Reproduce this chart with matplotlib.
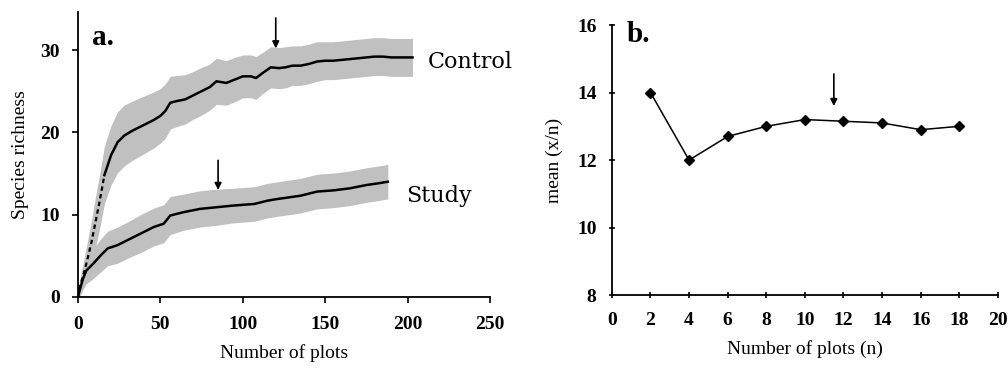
import matplotlib
matplotlib.use("Agg")
import matplotlib.pyplot as plt
import numpy as np

# ---- Panel a data ----
control_x = [0, 1, 3, 5, 8, 10, 13, 16, 20, 24, 28, 33, 40, 46, 50, 53, 56, 60, 65, 70, 75, 80,
             84, 90, 95, 100, 105, 108, 112, 117, 122, 126, 130, 135, 140, 145, 150, 155, 160,
             165, 170, 175, 180, 185, 190, 195, 200, 203]
control_y = [0.0, 1.2, 2.5, 4.0, 6.5, 8.5, 11.5, 14.8, 17.2, 18.8, 19.6, 20.2, 20.9, 21.5, 22.0,
             22.6, 23.6, 23.8, 24.0, 24.5, 25.0, 25.5, 26.2, 26.0, 26.4, 26.8, 26.8, 26.6, 27.2,
             27.9, 27.8, 27.9, 28.1, 28.1, 28.3, 28.6, 28.7, 28.7, 28.8, 28.9, 29.0, 29.1, 29.2,
             29.2, 29.1, 29.1, 29.1, 29.1]
control_sd = [0.3, 0.8, 1.5, 2.0, 2.6, 3.0, 3.3, 3.5, 3.6, 3.7, 3.7, 3.6, 3.5, 3.4, 3.3, 3.3,
              3.2, 3.1, 3.0, 2.9, 2.9, 2.8, 2.8, 2.7, 2.7, 2.6, 2.6, 2.6, 2.5, 2.5, 2.5, 2.5,
              2.4, 2.4, 2.4, 2.4, 2.3, 2.3, 2.3, 2.3, 2.3, 2.3, 2.3, 2.3, 2.3, 2.3, 2.3, 2.3]

study_x = [0, 1, 3, 5, 9, 14, 18, 24, 30, 38, 46, 52, 56, 64, 74, 84, 94, 107, 115, 121, 135,
           145, 155, 165, 175, 182, 188]
study_y = [0.0, 0.8, 2.2, 3.2, 4.0, 5.1, 5.9, 6.3, 6.9, 7.7, 8.5, 8.9, 9.9, 10.3, 10.7, 10.9,
           11.1, 11.3, 11.7, 11.9, 12.3, 12.8, 12.95, 13.2, 13.6, 13.8, 14.0]
study_sd = [0.3, 0.8, 1.3, 1.6, 1.8, 2.0, 2.1, 2.2, 2.2, 2.3, 2.3, 2.3, 2.3, 2.2, 2.2, 2.2,
            2.1, 2.1, 2.1, 2.1, 2.1, 2.1, 2.1, 2.1, 2.1, 2.1, 2.1]

a_xticks = [0, 50, 100, 150, 200, 250]
a_yticks = [0, 10, 20, 30]
control_arrow = (120, 33.9, 30.2)
study_arrow = (85, 16.6, 13.0)

# ---- Panel b data ----
b_n = [2, 4, 6, 8, 10, 12, 14, 16, 18]
b_mean = [14.0, 12.0, 12.7, 13.0, 13.2, 13.15, 13.1, 12.9, 13.0]
b_xticks = [0, 2, 4, 6, 8, 10, 12, 14, 16, 18, 20]
b_yticks = [8, 10, 12, 14, 16]
b_arrow = (11.5, 14.55, 13.6)

serif = ["Liberation Serif", "DejaVu Serif"]
plt.rcParams["font.family"] = serif

fig = plt.figure(figsize=(10.08, 3.68), dpi=100)
axa = fig.add_axes([0.0774, 0.193, 0.4087, 0.774])
axb = fig.add_axes([0.607, 0.198, 0.383, 0.734])

def style(ax, tdir):
    for s in ["top", "right"]:
        ax.spines[s].set_visible(False)
    for s in ["left", "bottom"]:
        ax.spines[s].set_linewidth(1.3)
        ax.spines[s].set_color("black")
    ax.tick_params(direction=tdir, length=4, width=1.2, colors="black")
    ax.tick_params(axis="x", pad=10)
    ax.tick_params(axis="y", pad=9)
    for lab in ax.get_xticklabels() + ax.get_yticklabels():
        lab.set_fontweight("bold")
        lab.set_fontsize(14)

# Panel a
cx = np.array(control_x); cy = np.array(control_y); cs = np.array(control_sd)
sx = np.array(study_x); sy = np.array(study_y); ss = np.array(study_sd)
axa.fill_between(cx, cy - cs, cy + cs, color="#c0c0c0", lw=0)
axa.fill_between(sx, sy - ss, sy + ss, color="#c0c0c0", lw=0)
early = cx <= 16
axa.plot(cx[early], cy[early], color="black", lw=1.6, ls=(0, (2, 1.5)))
axa.plot(cx[cx >= 16], cy[cx >= 16], color="black", lw=1.8)
axa.plot(sx, sy, color="black", lw=1.8)
for (xa, y0, y1) in [control_arrow, study_arrow]:
    axa.annotate("", xy=(xa, y1), xytext=(xa, y0),
                 arrowprops=dict(arrowstyle="-|>", color="black", lw=1.2,
                                 mutation_scale=10, shrinkA=0, shrinkB=0))
axa.set_xlim(0, 250)
axa.set_ylim(0, 34.6)
axa.set_xticks(a_xticks)
axa.set_yticks(a_yticks)
style(axa, "out")
axa.text(212, 28.6, "Control", fontsize=16, va="center", ha="left", family="DejaVu Serif")
axa.text(199, 12.3, "Study", fontsize=16, va="center", ha="left", family="DejaVu Serif")
axa.text(8.5, 30.6, "a.", fontsize=21, fontweight="bold", va="baseline", ha="left")
axa.set_xlabel("Number of plots", fontsize=14, labelpad=8)
axa.set_ylabel("Species richness", fontsize=14, labelpad=8)

# Panel b
axb.plot(b_n, b_mean, color="black", lw=1.1, marker="D", ms=5)
axb.annotate("", xy=(b_arrow[0], b_arrow[2]), xytext=(b_arrow[0], b_arrow[1]),
             arrowprops=dict(arrowstyle="-|>", color="black", lw=1.2,
                             mutation_scale=10, shrinkA=0, shrinkB=0))
axb.set_xlim(0, 20)
axb.set_ylim(8, 16)
axb.set_xticks(b_xticks)
axb.set_yticks(b_yticks)
style(axb, "inout")
axb.text(0.75, 15.5, "b.", fontsize=21, fontweight="bold", va="baseline", ha="left")
axb.set_xlabel("Number of plots (n)", fontsize=14, labelpad=8)
axb.set_ylabel("mean (x/n)", fontsize=14, labelpad=10)

fig.savefig("out.png", dpi=100)
